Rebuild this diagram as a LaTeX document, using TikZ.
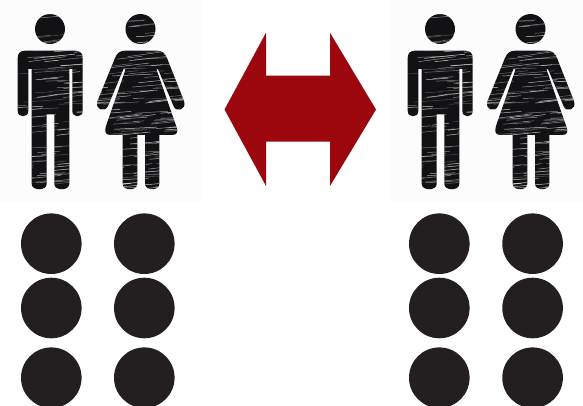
\documentclass[tikz,border=0pt]{standalone}
\definecolor{arrowred}{HTML}{9C070D}
\definecolor{dotblack}{HTML}{231F20}
\definecolor{figblack}{HTML}{121214}
\definecolor{paneloff}{HTML}{FCFCFC}
\newcommand{\figpath}{
  (50,29) circle (15)
  (140.5,29) circle (15)
  % man
  (25,50.7) -- (75,50.7) .. controls (80.5,50.7) and (82.7,53.5) .. (82.7,58)
  -- (82.7,111) .. controls (82.7,118) and (72.3,118) .. (72.3,111)
  -- (72.3,69) -- (69.3,69) -- (69.3,184) .. controls (69.3,191) and (54.3,191) .. (54.3,184)
  -- (54.3,114.5) -- (46.7,114.5) -- (46.7,184) .. controls (46.7,191) and (31.7,191) .. (31.7,184)
  -- (31.7,69) -- (28.3,69) -- (28.3,111) .. controls (28.3,118) and (17.7,118) .. (17.7,111)
  -- (17.7,58) .. controls (17.7,53.5) and (20,50.7) .. (25,50.7) -- cycle
  % woman
  (125,50.7) -- (157,50.7) .. controls (162,50.7) and (165,53) .. (167,58)
  -- (184,101) .. controls (187,110) and (176,113) .. (173.5,106)
  -- (158,69) -- (156.5,69.5) -- (176.5,127) .. controls (178.5,132) and (177,135) .. (172,135)
  -- (159.3,135) -- (159.3,184) .. controls (159.3,191) and (145,191) .. (145,184)
  -- (145,135) -- (137.3,135) -- (137.3,184) .. controls (137.3,191) and (122.7,191) .. (122.7,184)
  -- (122.7,135) -- (110,135) .. controls (105,135) and (104.5,131) .. (106,126)
  -- (125.5,69.5) -- (123.5,69) -- (108,106) .. controls (105,113) and (94.5,110) .. (97.5,101)
  -- (115,58) .. controls (117,53) and (120,50.7) .. (125,50.7) -- cycle
}
\newcommand{\scratches}{%
  \pgfmathsetseed{4217}%
  \foreach \i in {1,...,260}{%
    \pgfmathsetmacro{\sx}{5+rnd*175}%
    \pgfmathsetmacro{\sy}{14+rnd*180}%
    \pgfmathsetmacro{\sl}{10+rnd*34}%
    \pgfmathsetmacro{\sd}{-0.14*\sl+rnd*0.12*\sl}%
    \pgfmathsetmacro{\so}{0.2+rnd*0.6}%
    \draw[white,line width=0.5,opacity=\so] (\sx,\sy) -- (\sx+\sl,\sy+\sd);%
  }%
}
\tikzset{
  px/.style={x=1pt,y=-1pt},
  panel/.style={fill=paneloff,draw=none},
  figure shape/.style={fill=figblack,draw=none},
  dot/.style={fill=dotblack,draw=none},
  double arrow/.style={fill=arrowred,draw=none},
  people/.pic={
    \fill[panel] (0,0) rectangle (203,202);
    \fill[figure shape] \figpath;
    \begin{scope}
      \clip \figpath;
      \scratches
    \end{scope}
  }
}
\begin{document}
\begin{tikzpicture}[px]
  \useasboundingbox (0,0) rectangle (583,406);
  \clip (0,0) rectangle (583,406);
  \fill[white] (0,0) rectangle (583,406);
  \pic at (0,0) {people};
  \pic at (390,0) {people};
  \fill[double arrow] (224.5,109.5) -- (266,32.7) -- (266,75.7) -- (330,75.7) -- (330,32.7)
    -- (376,109.5) -- (330,186) -- (330,141.7) -- (266,141.7) -- (266,186) -- cycle;
  \foreach \cx in {51.3,144.3,439.3,532.6}
    \foreach \cy in {243.7,308,377.7}
      \fill[dot] (\cx,\cy) circle (30.3);
\end{tikzpicture}
\end{document}
